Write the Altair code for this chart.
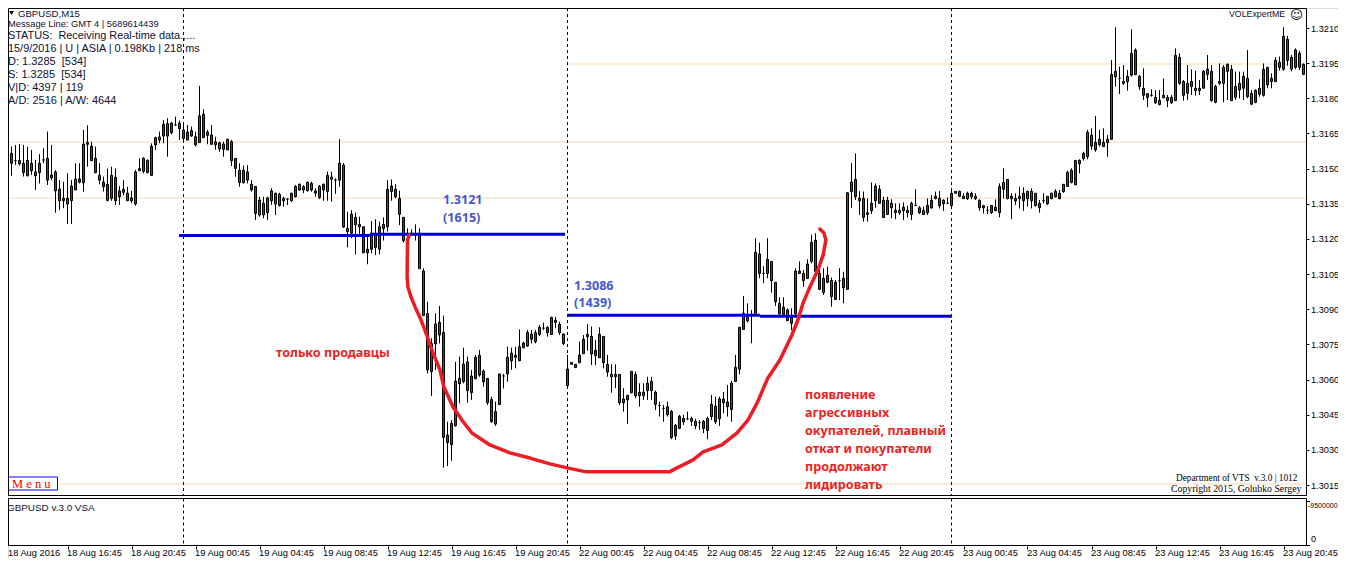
import json
import altair as alt
import pandas as pd

# Price values in pips above 1.3000 (M15 bars)
OPEN = [162.5,159.6,156.5,153.4,152.1,152.3,147.0,152.3,148.6,148.3,
153.7,154.4,146.1,148.6,141.3,137.3,134.9,136.3,140.9,145.6,
144.0,161.2,159.6,154.4,147.1,142.3,143.3,137.3,146.3,138.0,
141.2,139.5,137.5,134.9,149.1,148.8,153.5,147.1,160.1,162.2,
163.9,169.2,165.3,168.6,169.4,166.5,162.2,163.9,163.6,161.1,
173.2,164.2,164.4,161.4,161.0,158.2,158.0,161.5,154.4,149.3,
144.0,148.6,143.3,142.4,130.2,135.2,131.2,136.3,139.5,134.3,
137.3,137.0,136.3,138.0,140.9,142.3,140.6,143.7,140.5,137.7,
140.9,140.3,146.4,145.1,145.1,151.5,124.5,122.4,129.2,125.2,
125.2,115.6,115.6,122.4,115.6,124.4,125.2,140.2,141.2,137.3,
129.2,121.7,122.4,121.7,122.4,106.3,88.2,63.4,75.2,84.4,
80.1,36.3,32.2,40.3,58.1,59.1,67.5,54.4,60.4,70.3,
63.6,60.5,51.5,41.0,49.3,61.5,62.4,68.0,70.3,68.0,
75.6,74.3,79.4,76.2,79.2,81.9,82.3,79.2,85.3,83.6,
79.4,57.4,67.3,65.1,67.2,71.0,78.3,78.4,72.5,69.3,
78.4,66.5,62.2,61.2,62.2,51.7,51.3,54.4,62.2,54.6,
53.1,55.3,59.2,54.6,48.9,47.7,48.4,46.4,35.9,39.2,
43.4,43.2,42.2,42.2,41.6,42.2,38.2,44.2,48.6,43.3,
51.7,48.4,47.2,59.2,64.4,81.4,86.8,87.5,87.5,113.6,
105.3,105.3,110.4,101.5,92.5,87.5,89.7,84.0,88.0,105.3,
105.3,103.1,110.4,119.4,105.3,97.1,104.5,102.3,94.2,102.2,
103.2,98.5,140.2,145.4,137.3,137.3,131.2,132.0,136.3,141.2,
136.5,130.4,135.2,132.2,132.2,132.0,132.2,130.4,134.3,133.3,
132.2,131.2,133.2,137.2,137.3,135.0,135.2,134.2,140.3,140.3,
137.2,137.2,138.0,138.2,136.5,134.2,132.2,131.2,133.5,131.2,
141.2,145.4,138.2,136.3,138.2,136.3,140.3,136.3,139.5,133.3,
136.3,135.0,137.2,140.3,137.2,140.2,142.4,149.3,143.1,152.1,
154.3,155.1,164.2,158.0,162.5,159.4,162.5,162.5,191.5,188.5,
187.2,187.1,189.9,200.6,189.4,184.3,182.0,181.3,180.4,177.3,
180.3,180.4,178.1,179.0,197.5,187.2,182.1,187.2,184.3,184.3,
184.3,192.4,191.5,178.3,186.4,186.4,194.5,192.4,180.4,186.4,
184.3,188.5,182.1,178.3,184.3,181.3,193.2,187.1,187.1,195.4,
192.4,205.2,197.5,193.2,199.2,194.5]
HIGH = [166.5,167.2,159.4,160.1,160.5,160.1,159.4,158.0,153.7,156.2,
158.7,165.8,160.1,149.4,145.1,144.4,148.0,145.1,152.3,152.3,
166.5,168.5,161.5,159.4,152.3,146.6,150.1,150.8,150.1,142.6,
145.1,142.3,140.5,149.4,154.4,154.8,154.0,160.8,163.6,165.8,
170.7,171.5,170.0,172.2,170.5,169.3,168.6,167.9,165.8,185.3,
175.3,166.5,168.6,163.6,161.5,161.5,162.8,162.2,154.4,152.3,
151.3,151.5,145.1,142.6,138.0,138.0,138.0,141.6,139.7,139.7,
138.0,137.3,139.7,143.0,143.7,143.0,144.4,144.4,141.6,143.0,
143.7,148.7,148.7,145.9,162.5,152.4,131.6,132.3,131.2,129.5,
125.2,121.7,127.6,128.4,127.4,129.2,145.1,145.4,143.4,140.6,
129.2,124.5,124.1,126.2,124.5,107.4,93.2,77.6,88.2,91.4,
87.3,42.0,42.7,67.6,69.8,73.6,69.8,64.1,70.5,72.6,
64.4,60.5,52.7,50.6,62.4,62.4,74.0,73.6,74.0,81.4,
76.2,81.1,81.1,81.1,83.3,84.3,82.6,86.8,86.8,84.7,
79.7,70.5,67.3,66.5,76.2,79.0,83.7,82.6,76.9,82.3,
78.4,70.5,66.5,66.5,62.2,56.3,53.3,63.5,63.4,58.4,
58.4,61.2,61.2,55.3,50.6,49.1,50.6,47.0,41.0,44.9,
44.9,46.3,44.2,43.2,42.7,42.7,44.2,53.4,52.7,52.7,
54.7,57.7,59.4,70.5,82.3,95.6,92.5,89.7,120.3,118.4,
108.4,120.3,110.4,101.5,95.1,95.1,90.4,90.4,107.5,110.4,
106.7,111.3,121.7,122.4,106.7,107.5,108.2,103.6,102.5,107.5,
106.0,140.0,152.3,156.5,140.4,140.2,137.3,144.1,143.7,143.0,
138.0,138.0,136.9,135.2,135.2,135.6,134.2,135.9,141.2,134.0,
133.8,137.3,138.7,140.2,140.4,136.9,137.7,140.9,140.3,140.6,
139.5,140.2,140.2,139.5,136.9,134.5,134.0,134.3,136.9,143.7,
150.1,145.4,139.5,139.5,142.3,142.0,140.6,141.6,139.5,136.6,
139.5,138.2,139.7,141.2,140.9,143.3,149.1,150.1,153.7,154.0,
157.2,166.5,167.2,172.5,166.5,167.2,164.3,196.3,210.3,193.5,
194.2,192.1,209.4,201.3,189.9,192.8,182.1,183.8,183.5,183.5,
188.5,181.4,181.4,201.3,199.2,187.8,194.2,192.4,191.8,187.8,
192.1,198.5,194.2,185.7,194.9,194.2,194.9,194.2,191.4,191.4,
191.4,200.6,183.5,183.8,188.1,194.9,193.5,190.7,197.5,197.8,
210.3,206.6,198.5,201.3,200.3,194.9]
LOW = [155.1,154.8,147.0,151.5,151.3,146.6,146.6,147.3,140.9,143.7,
152.3,143.0,145.1,131.2,132.3,133.1,126.4,126.4,140.9,143.7,
140.2,150.8,153.4,148.0,143.3,140.2,136.3,136.3,134.5,134.5,
138.7,136.2,135.2,134.2,149.1,148.0,148.0,147.0,158.0,160.8,
160.8,155.1,164.6,168.2,162.2,161.5,162.2,163.6,159.4,161.1,
163.2,160.4,160.1,158.0,157.2,155.1,158.0,151.1,146.6,142.3,
143.7,143.7,140.2,128.1,129.5,128.8,128.1,134.5,130.2,133.8,
133.8,134.5,135.9,137.7,140.6,139.5,140.2,140.2,138.0,137.0,
136.3,136.3,135.9,139.2,142.3,124.7,116.4,120.3,113.4,121.0,
113.9,109.2,113.9,113.1,113.4,119.3,123.1,136.3,137.3,125.9,
118.4,119.3,121.7,119.3,107.3,87.3,62.6,53.0,64.1,75.4,
22.4,23.1,25.4,39.9,49.9,58.4,50.1,51.3,60.1,61.2,
57.0,49.1,41.6,40.2,49.3,56.2,59.1,64.1,64.8,68.0,
73.3,74.0,75.4,75.4,78.6,81.1,78.3,79.0,81.9,79.0,
74.7,56.7,66.3,65.1,66.9,71.0,72.3,66.2,66.2,69.3,
64.8,61.2,54.4,56.3,49.1,46.3,41.1,54.1,52.0,48.4,
51.3,51.3,51.3,47.0,44.2,42.0,44.2,34.6,34.2,38.8,
40.6,42.7,40.2,38.8,38.5,37.1,34.5,42.7,41.0,40.2,
45.6,44.2,42.0,59.2,62.2,81.4,84.3,75.5,87.5,103.2,
101.1,103.2,97.1,91.4,87.5,86.8,85.0,81.1,87.5,105.0,
99.6,103.1,109.6,106.0,98.2,96.1,101.1,91.1,93.9,93.9,
92.5,98.5,133.3,136.6,130.2,127.4,127.4,130.6,133.3,135.2,
129.1,130.2,128.8,128.4,130.2,128.0,129.2,128.0,134.0,130.6,
130.2,130.2,133.0,136.9,133.0,132.0,134.9,133.0,139.5,138.0,
137.2,136.6,136.9,136.6,132.0,130.9,130.6,130.6,132.0,129.2,
137.3,136.9,128.4,134.5,133.0,132.0,133.8,133.0,133.8,131.2,
135.2,134.5,136.9,137.7,136.9,139.7,142.3,143.7,143.0,148.0,
153.4,154.0,158.0,157.2,159.4,159.4,155.1,162.5,185.0,181.8,
185.7,183.3,189.2,189.9,183.6,179.3,176.2,180.7,177.6,177.0,
179.9,176.2,177.6,179.0,185.7,179.0,179.3,181.4,181.1,181.4,
184.3,187.8,178.6,177.9,185.7,178.3,179.3,179.0,179.3,180.0,
179.3,180.0,177.1,177.9,180.7,180.7,184.3,184.3,187.1,191.8,
191.8,193.9,191.5,192.4,192.1,189.9]
CLOSE = [160.4,155.1,152.3,153.4,153.5,148.3,153.5,149.1,147.0,152.3,
153.7,145.1,147.3,140.5,136.3,136.3,137.3,142.6,145.6,144.2,
160.5,160.4,153.4,148.3,145.1,144.2,136.3,147.1,136.3,140.5,
139.9,136.3,136.2,148.6,150.0,154.4,148.3,159.6,163.2,163.5,
168.9,163.9,169.4,168.6,167.1,162.9,165.6,166.2,160.2,172.5,
163.2,165.6,160.4,160.2,158.4,160.5,162.5,153.4,150.1,144.0,
149.3,145.1,140.9,130.9,136.6,130.2,137.5,140.5,134.9,139.0,
136.3,137.0,139.5,142.4,143.3,140.9,144.2,140.9,139.5,142.4,
143.3,147.1,145.4,145.1,152.3,125.1,123.1,130.6,126.1,126.2,
114.1,114.1,122.4,116.4,125.2,126.2,141.2,142.6,138.0,130.5,
119.3,121.7,122.4,121.7,107.3,87.3,64.1,75.4,83.7,79.0,
35.3,33.1,41.3,59.4,60.5,66.6,55.3,61.5,69.5,61.9,
59.0,50.1,42.0,46.3,62.4,61.5,69.5,71.3,69.5,74.0,
73.6,80.1,77.2,80.0,82.3,81.9,80.0,86.5,84.4,80.0,
75.4,64.5,66.5,66.5,70.5,77.2,79.3,70.9,70.3,79.3,
67.2,63.2,61.2,62.2,50.1,50.1,53.3,63.5,53.1,53.1,
54.6,58.4,55.3,49.4,48.9,47.7,45.0,35.2,40.5,44.3,
42.0,43.2,43.4,40.3,41.6,39.1,43.4,49.4,42.0,51.7,
50.1,50.4,58.5,65.2,82.3,88.3,85.1,87.5,114.3,105.3,
105.3,111.3,102.2,93.2,88.0,90.8,85.1,86.5,106.3,106.3,
102.2,109.3,118.5,106.2,98.5,103.2,101.5,95.4,101.5,102.2,
99.2,139.7,144.3,138.0,136.3,129.2,130.4,135.2,142.6,135.2,
129.1,136.5,133.3,131.2,131.2,133.5,131.2,135.2,134.3,131.2,
130.4,134.3,136.5,138.2,134.2,136.5,135.2,139.5,139.5,138.2,
138.2,139.5,139.5,137.2,133.3,133.3,132.2,134.3,132.0,142.4,
144.1,137.2,137.2,137.3,137.2,139.5,137.2,140.3,134.2,135.2,
136.3,138.2,139.5,138.0,139.5,143.3,148.4,144.1,153.5,153.5,
156.5,165.5,159.6,161.2,160.2,161.2,161.1,190.2,189.2,188.5,
186.4,189.4,199.2,190.1,185.0,181.3,180.4,181.3,178.1,179.1,
181.3,179.0,180.4,198.3,186.4,181.3,186.4,185.0,183.3,183.3,
191.5,190.2,179.0,185.1,187.2,193.2,191.5,179.0,185.1,183.6,
189.4,180.7,177.5,183.4,181.8,192.4,185.7,188.5,196.2,193.2,
206.4,196.2,192.4,200.6,193.2,190.2]

PRICE_TICKS = [1.3015,1.3030,1.3045,1.3060,1.3075,1.3090,1.3105,1.3120,1.3135,1.3150,1.3165,1.3180,1.3195,1.3210]
TIME_LABELS = ["18 Aug 16:45","18 Aug 20:45","19 Aug 00:45","19 Aug 04:45","19 Aug 08:45","19 Aug 12:45",
 "19 Aug 16:45","19 Aug 20:45","22 Aug 00:45","22 Aug 04:45","22 Aug 08:45","22 Aug 12:45","22 Aug 16:45",
 "22 Aug 20:45","23 Aug 00:45","23 Aug 04:45","23 Aug 08:45","23 Aug 12:45","23 Aug 16:45","23 Aug 20:45"]
TIME_TICKS = [16*(k+1) for k in range(len(TIME_LABELS))]
DAY_BARS = [45,141,237]

PALE_LEVEL = [161.4,137.5,15.4,194.6]
PALE_START = [0,0,14,141]
BLUE_LEVEL = [121.5,122.0,87.4,87.0]
BLUE_START = [43.9,91.6,140.9,189.1]
BLUE_END = [91.6,140.4,189.1,237.1]

CURVE_BAR = [101.4,101.0,100.9,101.1,101.9,102.9,104.4,105.6,107.1,109.1,110.1,112.4,114.6,117.1,121.6,126.6,131.6,136.6,140.9,145.4,166.6,168.4,172.4,174.9,179.6,183.4,186.1,188.4,191.1,194.1,197.1,198.6,199.9,201.6,203.6,204.9,205.6,205.1,204.1]
CURVE_PIP = [121.7,119.5,103.8,99.5,95.2,91.0,85.4,79.9,72.6,64.1,56.8,48.3,42.7,37.2,32.1,28.7,26.5,24.0,22.3,20.7,20.7,22.3,25.7,29.1,32.1,37.2,42.7,50.0,60.7,68.3,79.0,85.4,92.7,99.5,106.7,113.1,119.5,122.5,124.2]

GREEN, RED = "#008000", "#FF0000"
BLACK = "#000000"
UI = "Liberation Sans"
SERIF = "Liberation Serif"
BOLD = "Noto Sans"
W, H = 1330, 550

def price(p):
    return 1.3 + p / 10000

bars = pd.DataFrame({
    "bar": range(len(OPEN)),
    "open": [price(v) for v in OPEN], "close": [price(v) for v in CLOSE],
    "high": [price(v) for v in HIGH], "low": [price(v) for v in LOW],
    "col": [GREEN if c >= o else RED for o, c in zip(OPEN, CLOSE)],
})
xs = alt.Scale(domain=[1.125, 325.625], range=[0, 1298], padding=0, nice=False, zero=False)
ys = alt.Scale(domain=[1.301031, 1.321854], range=[488, 0], nice=False, zero=False)

y_axis = alt.Axis(orient="right", offset=-32, values=PRICE_TICKS, format=".4f", title=None, grid=False, domain=False,
                  tickSize=3, tickColor=BLACK, labelColor=BLACK, labelFont=UI, labelFontSize=9.2,
                  labelPadding=1.5, labelOverlap=False, labelFlush=False, labelBound=False)
x_axis = alt.Axis(values=TIME_TICKS, orient="bottom", offset=-12, title=None, grid=False, domain=False, tickSize=3,
                  tickColor=BLACK, labelColor=BLACK, labelFont=UI, labelFontSize=9.3, labelAlign="left",
                  labelPadding=-1, labelOverlap=False, labelFlush=False, labelBound=False, labelOffset=-1,
                  labelExpr=json.dumps(TIME_LABELS) + "[datum.value / 16 - 1]")
X = alt.X("bar:Q", scale=xs, axis=x_axis)

def Y(field):
    return alt.Y(field, scale=ys, axis=y_axis)

ONE = pd.DataFrame({"k": [0]})
def frame(x1, x2, y1, y2):
    return alt.Chart(ONE).mark_rect(fillOpacity=0, stroke=BLACK, strokeWidth=1).encode(
        x=alt.value(x1), x2=alt.value(x2), y=alt.value(y1), y2=alt.value(y2))
def side_tick(y):
    return alt.Chart(ONE).mark_rule(color=BLACK, strokeWidth=1).encode(
        x=alt.value(1298.5), x2=alt.value(1302), y=alt.value(y))

pale = alt.Chart(pd.DataFrame({"y": [price(v) for v in PALE_LEVEL], "bar": PALE_START, "end": [325.625]*4})).mark_rule(
    color="#FBEBD9", strokeWidth=2, clip=True).encode(x=X, x2="end:Q", y=Y("y:Q"))
day_df = pd.DataFrame({"bar": DAY_BARS})
def day_lines(y1, y2):
    return alt.Chart(day_df).mark_rule(color=BLACK, strokeWidth=1, strokeDash=[3, 3]).encode(
        x=X, y=alt.value(y1), y2=alt.value(y2))
wicks = alt.Chart(bars).mark_rule(color=BLACK, strokeWidth=1, clip=True).encode(x=X, y=Y("high:Q"), y2="low:Q")
bodies = alt.Chart(bars).mark_bar(size=2, stroke=BLACK, strokeWidth=1, clip=True).encode(
    x=X, y=Y("open:Q"), y2="close:Q", color=alt.Color("col:N", scale=None))
blue = alt.Chart(pd.DataFrame({"y": [price(v) for v in BLUE_LEVEL], "bar": BLUE_START, "end": BLUE_END})).mark_rule(
    color="#0000CD", strokeWidth=3).encode(x=X, x2="end:Q", y=Y("y:Q"))
curve = alt.Chart(pd.DataFrame({"bar": CURVE_BAR, "y": [price(v) for v in CURVE_PIP], "n": range(len(CURVE_BAR))})).mark_line(
    color="#ED1C24", strokeWidth=3.5, strokeJoin="round", strokeCap="round").encode(x=X, y=Y("y:Q"), order="n:Q")

def label(text, px, py, size=10, color="#101030", font=UI, weight="normal", align="left"):
    return alt.Chart(ONE).mark_text(text=text, align=align, baseline="middle", fontSize=size, color=color,
                                    font=font, fontWeight=weight).encode(x=alt.value(px - 8), y=alt.value(py - 8))

button = alt.Chart(ONE).mark_rect(fill="white", stroke="#0000FF", strokeWidth=1).encode(
    x=alt.value(0.5), x2=alt.value(49.5), y=alt.value(469), y2=alt.value(482))
triangle = alt.Chart(ONE).mark_point(shape="triangle-down", filled=True, size=22, color=BLACK, opacity=1).encode(
    x=alt.value(3.5), y=alt.value(5))

NB = "\u00a0"
BLUE_TXT = "#4655D0"
RED_TXT = "#EE2222"
texts = [
    label("GBPUSD,M15", 18, 13.5, 9.6),
    label("Message Line: GMT 4 | 5689614439", 8, 23.5, 9.3),
    label(f"STATUS:{NB}{NB}Receiving Real-time data.,...", 8, 36, 10.9),
    label("15/9/2016 | U | ASIA | 0.198Kb | 218 ms", 8, 49, 10.9),
    label(f"D: 1.3285{NB}{NB}[534]", 8, 62, 11),
    label(f"S: 1.3285{NB}{NB}[534]", 8, 75, 11),
    label("V|D: 4397 | 119", 8, 88, 11),
    label("A/D: 2516 | A/W: 4644", 8, 101, 11),
    label("VOLExpertME", 1229, 14, 8.8),
    label("☺", 1290, 15, 12.5, color=BLACK, font="DejaVu Sans"),
    label("1.3121", 443, 200, 12.6, BLUE_TXT, BOLD, "bold"),
    label("(1615)", 443, 217.5, 12.6, BLUE_TXT, BOLD, "bold"),
    label("1.3086", 574, 285.5, 12.6, BLUE_TXT, BOLD, "bold"),
    label("(1439)", 574, 303, 12.6, BLUE_TXT, BOLD, "bold"),
    label("только продавцы", 276, 353, 12.6, RED_TXT, BOLD, "bold"),
    label("появление", 805, 395, 12.6, RED_TXT, BOLD, "bold"),
    label("агрессивных", 805, 413, 12.6, RED_TXT, BOLD, "bold"),
    label("окупателей, плавный", 805, 431, 12.6, RED_TXT, BOLD, "bold"),
    label("откат и покупатели", 805, 449, 12.6, RED_TXT, BOLD, "bold"),
    label("продолжают", 805, 467, 12.6, RED_TXT, BOLD, "bold"),
    label("лидировать", 805, 485, 12.6, RED_TXT, BOLD, "bold"),
    label(f"Department of VTS{NB}{NB}v.3.0 | 1012", 1176, 478, 9.3, BLACK, SERIF),
    label("Copyright 2015, Golubko Sergey", 1171, 488.5, 9.8, BLACK, SERIF),
    label("M e n u", 12, 484, 12.5, "#FF0000", SERIF),
    label("GBPUSD v.3.0 VSA", 7, 507.5, 9.9),
    label("18 Aug 2016", 8, 553, 9.3, BLACK),
    label("-9500000", 1308, 506, 7, BLACK),
    label("0", 1311, 539, 9.2, BLACK),
]
chart = alt.layer(
    pale, day_lines(0, 488), day_lines(490.5, 538), wicks, bodies, blue, curve, button, triangle,
    frame(0.5, 1298.5, 0.5, 487.5), frame(0.5, 1298.5, 490.5, 537.5), side_tick(493.5), side_tick(537.5), *texts
).properties(
    width=W, height=H, padding=0, autosize=alt.AutoSizeParams(type="none", contains="padding")
).configure_view(stroke=None).configure(background="white")
chart.save("out.html", embed_options={"renderer": "svg", "actions": False})
